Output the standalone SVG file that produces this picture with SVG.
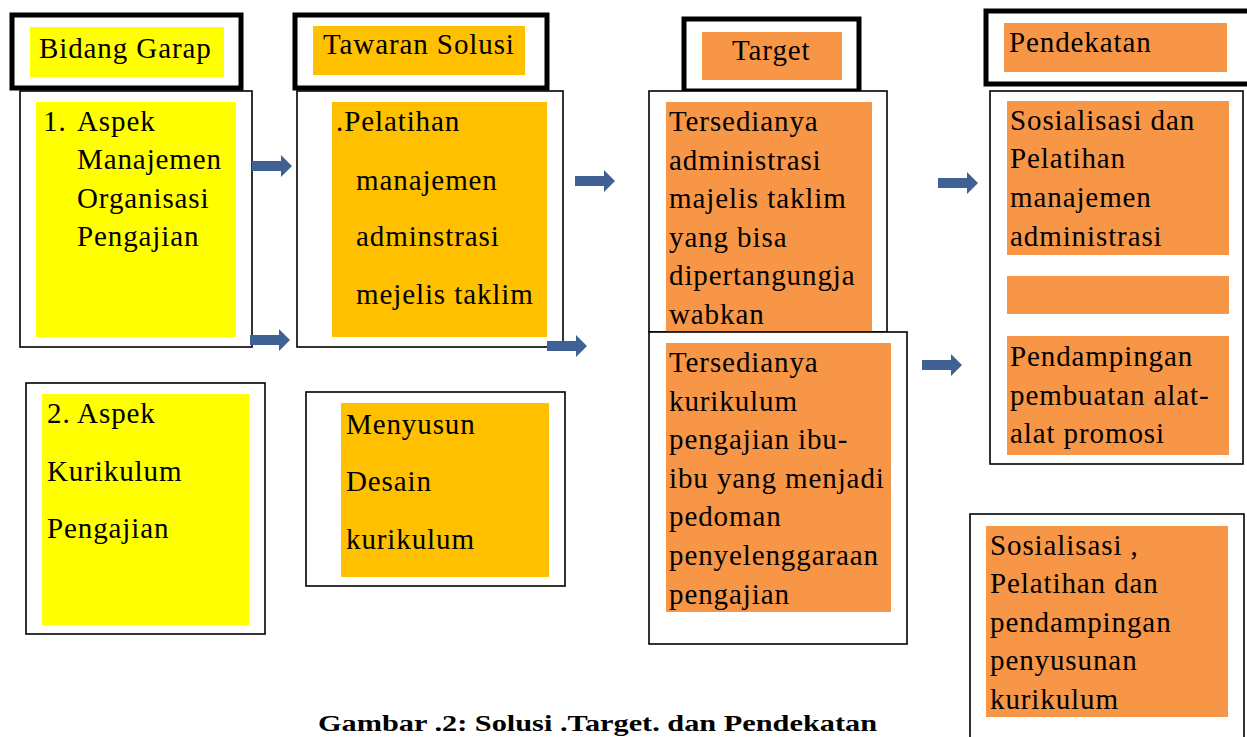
<svg xmlns="http://www.w3.org/2000/svg" width="1247" height="737" viewBox="0 0 1247 737">
<style>
.hdr{fill:#fff;stroke:#000;stroke-width:5}
.box{fill:#fff;stroke:#000;stroke-width:1.6}
.y{fill:#FFFF00}
.o{fill:#FFC000}
.p{fill:#F79646}
text{font-family:"Liberation Serif","Times New Roman",serif;font-size:29px;fill:#000;letter-spacing:0.9px}
.cap{font-size:24px;font-weight:bold;letter-spacing:0}
.arr{fill:#3F6194}
</style>
<defs>
<path id="arrow" d="M0,-5 L29,-5 L29,-11 L40,0 L29,11 L29,5 L0,5 Z"/>
</defs>
<rect width="1247" height="737" fill="#fff"/>

<g id="hdr-bidang">
<rect class="hdr" x="12" y="15" width="229" height="73"/>
<rect class="y" x="30" y="27" width="194" height="50"/>
<text x="39" y="58">Bidang Garap</text>
</g>
<g id="hdr-tawaran">
<rect class="hdr" x="295" y="15" width="252" height="73"/>
<rect class="o" x="313" y="26" width="212" height="49"/>
<text x="323" y="54">Tawaran Solusi</text>
</g>
<g id="hdr-target">
<rect class="hdr" x="684" y="19" width="175" height="72"/>
<rect class="p" x="702" y="32" width="140" height="48"/>
<text x="732" y="60">Target</text>
</g>
<g id="hdr-pendekatan">
<rect class="hdr" x="986" y="11" width="264" height="73"/>
<rect class="p" x="1004" y="23" width="223" height="49"/>
<text x="1009" y="52">Pendekatan</text>
</g>

<g id="node-aspek1">
<rect class="box" x="20" y="91" width="232" height="256"/>
<rect class="y" x="36" y="102" width="200" height="235"/>
<text x="43" y="131">1.</text>
<text x="77" y="131">Aspek</text>
<text x="77" y="169">Manajemen</text>
<text x="77" y="208">Organisasi</text>
<text x="77" y="246">Pengajian</text>
</g>
<g id="node-pelatihan">
<rect class="box" x="297" y="91" width="266" height="256"/>
<rect class="o" x="332" y="102" width="215" height="235"/>
<text x="336" y="131">.Pelatihan</text>
<text x="356" y="190">manajemen</text>
<text x="356" y="246">adminstrasi</text>
<text x="356" y="304">mejelis taklim</text>
</g>
<g id="node-target1">
<rect class="box" x="649" y="91" width="238" height="241"/>
<rect class="p" x="666" y="102" width="206" height="230"/>
<text x="669" y="131">Tersedianya</text>
<text x="669" y="170">administrasi</text>
<text x="669" y="208">majelis taklim</text>
<text x="669" y="247">yang bisa</text>
<text x="669" y="285">dipertangungja</text>
<text x="669" y="324">wabkan</text>
</g>
<g id="node-target2">
<rect class="box" x="649" y="332" width="258" height="312"/>
<rect class="p" x="666" y="343" width="225" height="269"/>
<text x="669" y="372">Tersedianya</text>
<text x="669" y="411">kurikulum</text>
<text x="669" y="449">pengajian ibu-</text>
<text x="669" y="488">ibu yang menjadi</text>
<text x="669" y="526">pedoman</text>
<text x="669" y="565">penyelenggaraan</text>
<text x="669" y="604">pengajian</text>
</g>
<g id="node-pendekatan1">
<rect class="box" x="990" y="91" width="253" height="373"/>
<rect class="p" x="1007" y="101" width="222" height="154"/>
<text x="1010" y="130">Sosialisasi dan</text>
<text x="1010" y="168">Pelatihan</text>
<text x="1010" y="207">manajemen</text>
<text x="1010" y="246">administrasi</text>
<rect class="p" x="1007" y="276" width="222" height="38"/>
<rect class="p" x="1007" y="336" width="222" height="119"/>
<text x="1010" y="366">Pendampingan</text>
<text x="1010" y="405">pembuatan alat-</text>
<text x="1010" y="443">alat promosi</text>
</g>
<g id="node-aspek2">
<rect class="box" x="26" y="383" width="239" height="251"/>
<rect class="y" x="42" y="394" width="207" height="231"/>
<text x="47" y="423">2. Aspek</text>
<text x="47" y="481">Kurikulum</text>
<text x="47" y="538">Pengajian</text>
</g>
<g id="node-menyusun">
<rect class="box" x="306" y="392" width="259" height="194"/>
<rect class="o" x="341" y="403" width="208" height="174"/>
<text x="346" y="434">Menyusun</text>
<text x="346" y="491">Desain</text>
<text x="346" y="549">kurikulum</text>
</g>
<g id="node-pendekatan2">
<rect class="box" x="970" y="514" width="274" height="240"/>
<rect class="p" x="986" y="526" width="242" height="191"/>
<text x="990" y="555">Sosialisasi ,</text>
<text x="990" y="593">Pelatihan dan</text>
<text x="990" y="632">pendampingan</text>
<text x="990" y="670">penyusunan</text>
<text x="990" y="709">kurikulum</text>
</g>

<g id="connectors" class="arr">
<use href="#arrow" x="252" y="166"/>
<use href="#arrow" x="250" y="340"/>
<use href="#arrow" x="575" y="181"/>
<use href="#arrow" x="547" y="346"/>
<use href="#arrow" x="938" y="183"/>
<use href="#arrow" x="922" y="365"/>
</g>

<text class="cap" x="318" y="731" textLength="559" lengthAdjust="spacingAndGlyphs">Gambar .2: Solusi .Target. dan Pendekatan</text>
</svg>
